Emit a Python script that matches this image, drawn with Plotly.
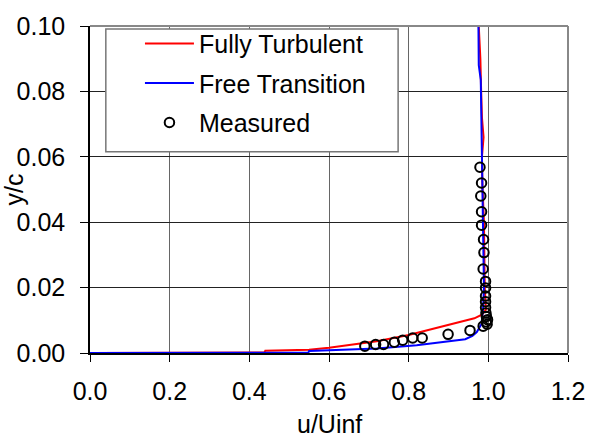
import plotly.graph_objects as go

# Fully Turbulent (red) profile
ft_u = [0.0, 0.438, 0.44, 0.55, 0.60, 0.645, 0.72, 0.80, 0.87, 0.93, 0.965, 0.985, 0.994,
        0.991, 0.990, 0.989, 0.985, 0.984, 0.988, 0.984, 0.982, 0.980, 0.976]
ft_y = [0.0, 0.0002, 0.0007, 0.0010, 0.0016, 0.0024, 0.0036, 0.0055, 0.0077, 0.0094, 0.0106,
        0.0118, 0.0133, 0.020, 0.030, 0.040, 0.052, 0.060, 0.066, 0.072, 0.080, 0.090, 0.100]

# Free Transition (blue) profile
tr_u = [0.0, 0.548, 0.55, 0.65, 0.72, 0.82, 0.87, 0.91, 0.942, 0.96, 0.971, 0.983, 0.987,
        0.989, 0.988, 0.987, 0.985, 0.983, 0.982, 0.981, 0.976, 0.975]
tr_y = [0.0, 0.0001, 0.0006, 0.0010, 0.0014, 0.0024, 0.0031, 0.0037, 0.0042, 0.0052, 0.0064,
        0.0089, 0.0139, 0.020, 0.030, 0.040, 0.052, 0.062, 0.075, 0.0835, 0.088, 0.102]

# Measured points
ms_u = [0.690, 0.717, 0.737, 0.764, 0.785, 0.810, 0.834, 0.899, 0.954, 0.987, 0.997, 0.995,
        0.998, 0.995, 0.994, 0.993, 0.993, 0.993, 0.993, 0.993, 0.987, 0.989, 0.988, 0.983,
        0.983, 0.981, 0.983, 0.979]
ms_y = [0.0021, 0.0026, 0.0026, 0.0033, 0.0039, 0.0046, 0.0046, 0.0057, 0.0069, 0.0082,
        0.0088, 0.0095, 0.0102, 0.0112, 0.0122, 0.0139, 0.0157, 0.0174, 0.0199, 0.0219,
        0.0257, 0.0307, 0.0347, 0.0391, 0.0432, 0.0480, 0.0520, 0.0568]

FONT = "Liberation Sans, Arial, sans-serif"

fig = go.Figure()
fig.add_trace(go.Scatter(x=ft_u, y=ft_y, mode="lines", name="Fully Turbulent",
                         line=dict(color="#FF0000", width=2), legendgroup="a"))
fig.add_trace(go.Scatter(x=tr_u, y=tr_y, mode="lines", name="Free Transition",
                         line=dict(color="#0000FF", width=2), legendgroup="b"))
fig.add_trace(go.Scatter(x=ms_u, y=ms_y, mode="markers", name="Measured",
                         marker=dict(symbol="circle-open", size=9.5, color="#000000",
                                     line=dict(width=2, color="#000000")),
                         legendgroup="c"))

# legend frame
fig.add_shape(type="rect", xref="paper", yref="paper", x0=0.0331, x1=0.6446, y0=0.6156, y1=0.991,
              fillcolor="white", line=dict(color="#777777", width=1.5), layer="above")
# plot-area border top/right
fig.add_shape(type="line", xref="paper", yref="paper", x0=0, x1=1, y0=1, y1=1,
              line=dict(color="#888888", width=2), layer="above")
fig.add_shape(type="line", xref="paper", yref="paper", x0=1, x1=1, y0=0, y1=1,
              line=dict(color="#888888", width=2), layer="above")

# axis titles
fig.add_annotation(text="u/Uinf", xref="paper", yref="paper", x=0.5, y=-72 / 333,
                   xanchor="center", yanchor="middle", showarrow=False,
                   font=dict(family=FONT, size=25, color="black"))
fig.add_annotation(text="y/c", xref="paper", yref="paper", x=-77 / 484, y=0.5,
                   xanchor="center", yanchor="middle", showarrow=False, textangle=-90,
                   font=dict(family=FONT, size=25, color="black"))

fig.update_layout(
    width=597, height=441,
    margin=dict(l=90, r=23, t=20, b=88),
    paper_bgcolor="white", plot_bgcolor="white",
    font=dict(family=FONT, size=25, color="black"),
    showlegend=True,
    legend=dict(x=0.1045, y=1.016, xanchor="left", yanchor="top",
                bgcolor="rgba(0,0,0,0)", borderwidth=0,
                font=dict(family=FONT, size=25, color="black"),
                traceorder="grouped", tracegroupgap=4, itemwidth=49),
    xaxis=dict(range=[0, 1.2], dtick=0.2, tick0=0, tickformat=".1f",
               showgrid=True, gridcolor="#666666", gridwidth=1,
               showline=True, linecolor="black", linewidth=1.5,
               ticks="outside", ticklen=7, tickcolor="black", tickwidth=1,
               ticklabelstandoff=8, zeroline=False),
    yaxis=dict(range=[0, 0.1], dtick=0.02, tick0=0, tickformat=".2f",
               showgrid=True, gridcolor="#222222", gridwidth=1,
               showline=True, linecolor="black", linewidth=1.5,
               ticks="outside", ticklen=8, tickcolor="black", tickwidth=1,
               ticklabelstandoff=10, zeroline=False),
)

fig.write_html("out.html")
